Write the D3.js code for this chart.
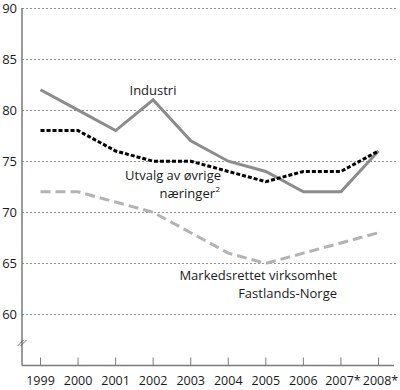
<!DOCTYPE html>
<html>
<head>
<meta charset="utf-8">
<script src="https://cdn.jsdelivr.net/npm/d3@7"></script>
<style>
  body { margin: 0; background: #fff; }
  text { font-family: "Open Sans", sans-serif; fill: #1a1a1a; }
</style>
</head>
<body>
<svg id="chart"></svg>
<script>
const years = ["1999", "2000", "2001", "2002", "2003", "2004", "2005", "2006", "2007*", "2008*"];
const industri = [82, 80, 78, 81, 77, 75, 74, 72, 72, 76];
const utvalg = [78, 78, 76, 75, 75, 74, 73, 74, 74, 76];
const markedsrettet = [72, 72, 71, 70, 68, 66, 65, 66, 67, 68];
const yTicks = [60, 65, 70, 75, 80, 85, 90];

const width = 400, height = 390;
const margin = { top: 8, right: 2, bottom: 24, left: 22 };

const svg = d3.select("#chart")
    .attr("width", width)
    .attr("height", height);

const x = d3.scalePoint()
    .domain(years)
    .range([40.5, 378.5]);

const y = d3.scaleLinear()
    .domain([55, 90])
    .range([height - margin.bottom - 0.5, margin.top]);

// gridlines
svg.append("g")
  .selectAll("line")
  .data(yTicks)
  .join("line")
    .attr("x1", margin.left)
    .attr("x2", width - margin.right)
    .attr("y1", d => Math.round(y(d)) + 0.5)
    .attr("y2", d => Math.round(y(d)) + 0.5)
    .attr("stroke", "#777")
    .attr("stroke-width", 0.8)
    .attr("stroke-dasharray", "2,2");

// y labels
svg.append("g")
  .selectAll("text")
  .data(yTicks)
  .join("text")
    .attr("x", 17)
    .attr("y", d => y(d))
    .attr("dy", "0.35em")
    .attr("text-anchor", "end")
    .style("font-size", "13px")
    .text(d => d);

// y axis line
svg.append("line")
    .attr("x1", margin.left).attr("x2", margin.left)
    .attr("y1", margin.top).attr("y2", y(55))
    .attr("stroke", "#7a7a7a")
    .attr("stroke-width", 1.5);

// axis break
svg.append("g").selectAll("line")
  .data([-1.5, 1.5])
  .join("line")
    .attr("x1", d => margin.left - 3 + d)
    .attr("x2", d => margin.left + 3 + d)
    .attr("y1", 346)
    .attr("y2", 340)
    .attr("stroke", "#555")
    .attr("stroke-width", 0.8);

// x axis
const xAxis = svg.append("g")
    .attr("transform", `translate(0, ${y(55)})`);
xAxis.append("line")
    .attr("x1", margin.left).attr("x2", width - margin.right - 4)
    .attr("stroke", "#7a7a7a")
    .attr("stroke-width", 1.5);
xAxis.selectAll(".tick")
  .data(years)
  .join("line")
    .attr("class", "tick")
    .attr("x1", d => x(d)).attr("x2", d => x(d))
    .attr("y1", 0).attr("y2", -8)
    .attr("stroke", "#7a7a7a")
    .attr("stroke-width", 1);
xAxis.selectAll(".lbl")
  .data(years)
  .join("text")
    .attr("class", "lbl")
    .attr("x", d => x(d) + (d.endsWith("*") ? 2 : 0))
    .attr("y", 19)
    .attr("text-anchor", "middle")
    .style("font-size", "12.5px")
    .text(d => d);

const line = d3.line()
    .x((d, i) => x(years[i]))
    .y(d => y(d));

svg.append("path")
    .datum(markedsrettet)
    .attr("fill", "none")
    .attr("stroke", "#b3b3b3")
    .attr("stroke-width", 3)
    .attr("stroke-dasharray", "10,5")
    .attr("d", line);

svg.append("path")
    .datum(industri)
    .attr("fill", "none")
    .attr("stroke", "#8c8c8c")
    .attr("stroke-width", 3)
    .attr("d", line);

svg.append("path")
    .datum(utvalg)
    .attr("fill", "none")
    .attr("stroke", "#000")
    .attr("stroke-width", 3)
    .attr("stroke-dasharray", "4,2")
    .attr("d", line);

// labels
function label(txt, xPos, yPos, anchor) {
  return svg.append("text")
      .attr("x", xPos)
      .attr("y", yPos)
      .attr("text-anchor", anchor)
      .style("font-size", "13px")
      .text(txt);
}
label("Industri", 153, 95, "middle");
label("Utvalg av øvrige", 221, 180, "end");
label("næringer", 215, 198, "end");
svg.append("text")
    .attr("x", 215.5)
    .attr("y", 192)
    .style("font-size", "8px")
    .text("2");
label("Markedsrettet virksomhet", 337, 280, "end");
label("Fastlands-Norge", 337, 298, "end");
</script>
</body>
</html>
